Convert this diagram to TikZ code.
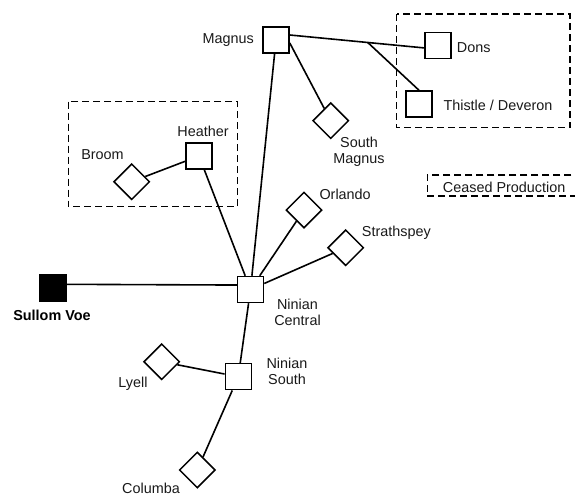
\documentclass[tikz,border=0pt]{standalone}
\usepackage{fontspec}
\setmainfont{Liberation Sans}
\usetikzlibrary{shapes.geometric,calc}
\begin{document}
\begin{tikzpicture}[x=1pt,y=-1pt,
  conn/.style={line width=1.6pt},
  plat/.style={draw, line width=1.5pt, rectangle, minimum size=26pt, inner sep=0pt, fill=white},
  sub/.style={draw, line width=1.5pt, diamond, minimum width=36pt, minimum height=36pt, inner sep=0pt, fill=white},
  lbl/.style={font=\fontsize{14.4}{16}\selectfont, text=black!90, inner sep=0pt},
  zone/.style={draw, line width=1.4pt, dash pattern=on 7pt off 4pt}]
\clip (0,0) rectangle (575,496);
% zones
\draw[zone] (396.7,14) rectangle (570,127.7);
\draw[zone] (68.3,101.7) rectangle (237.7,206.7);
\node[zone, lbl, minimum width=155pt, minimum height=21pt, anchor=west] (legend) at (426.7,185.5) {};
\node[lbl, anchor=base west] (legendtext) at (442.7,192.3) {Ceased Production};
% platforms
\node[plat] (mag) at (276,40) {};
\node[plat] (dons) at (438,45.5) {};
\node[plat] (thi) at (419,104) {};
\node[sub] (smag) at (330.7,120.7) {};
\node[plat] (hea) at (199,156) {};
\node[sub] (bro) at (131.7,181.7) {};
\node[plat, fill=black] (sul) at (53,288) {};
\node[plat] (nc) at (250.5,289.5) {};
\node[plat] (ns) at (238.3,376.7) {};
\node[sub] (lye) at (161.7,361.7) {};
\node[sub] (col) at (197.3,470) {};
\node[sub] (orl) at (304,210) {};
\node[sub] (str) at (345.7,247.7) {};
% connectors
\draw[conn] (sul.15) -- (nc.162);
\draw[conn] (nc) -- (mag);
\draw[conn] (nc) -- (hea);
\draw[conn] (hea) -- (bro);
\draw[conn] (nc) -- (orl);
\draw[conn] (nc) -- (str);
\draw[conn] (nc) -- (ns);
\draw[conn] (ns) -- (lye);
\draw[conn] (ns) -- (col);
\draw[conn] (mag.-12) -- (smag);
\draw[conn] (mag.20) -- (dons.190);
\coordinate (j) at ($(mag.20)!0.58!(dons.190)$);
\draw[conn] (j) -- (thi.north);
% labels
\node[lbl, anchor=base east] (lmag) at (254,43.3) {Magnus};
\node[lbl, anchor=base west] (ldons) at (456.7,52.7) {Dons};
\node[lbl, anchor=base west] (lthi) at (443.3,110.7) {Thistle / Deveron};
\node[lbl, align=center] (lsmag) at (359,152.1) {South\\Magnus};
\node[lbl, anchor=base] (lhea) at (203,136) {Heather};
\node[lbl, anchor=base] (lbro) at (102.5,159) {Broom};
\node[lbl, anchor=base, font=\fontsize{14.4}{16}\selectfont\bfseries, text=black] (lsul) at (52,320) {Sullom Voe};
\node[lbl, align=center] (lnc) at (297.5,311.9) {Ninian\\Central};
\node[lbl, align=center] (lns) at (287,371) {Ninian\\South};
\node[lbl, anchor=base] (llye) at (133,387.7) {Lyell};
\node[lbl, anchor=base] (lcol) at (151,493) {Columba};
\node[lbl, anchor=base west] (lorl) at (319.3,199.3) {Orlando};
\node[lbl, anchor=base west] (lstr) at (361.7,236) {Strathspey};
\end{tikzpicture}
\end{document}
